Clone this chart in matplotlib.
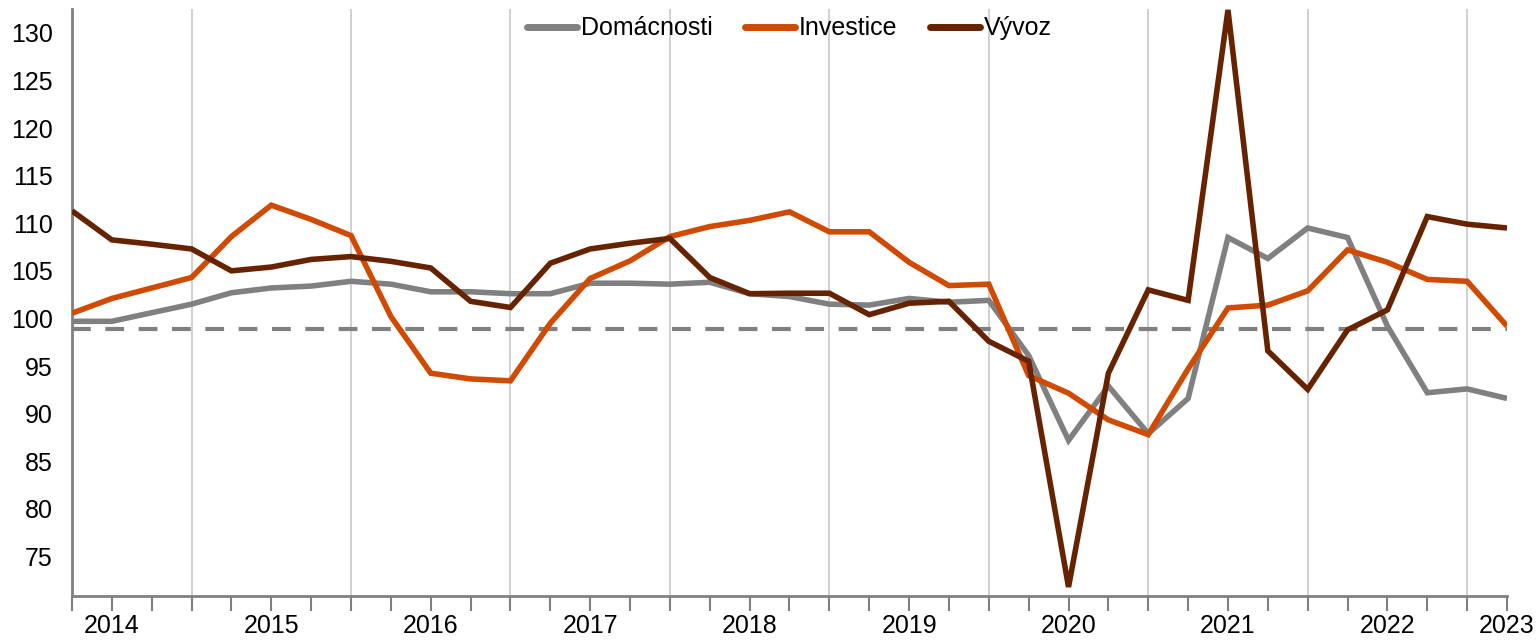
import matplotlib
matplotlib.use("Agg")
import matplotlib.pyplot as plt

# ---- data ----
x_labels = ['', '2014', '', '', '', '2015', '', '', '', '2016', '', '', '',
            '2017', '', '', '', '2018', '', '', '', '2019', '', '', '',
            '2020', '', '', '', '2021', '', '', '', '2022', '', '', '2023']

domacnosti = [99.7, 99.7, 100.6, 101.5, 102.7, 103.2, 103.4, 103.9, 103.6,
              102.8, 102.8, 102.6, 102.6, 103.7, 103.7, 103.6, 103.8, 102.6,
              102.3, 101.5, 101.4, 102.1, 101.7, 101.9, 96.1, 87.2, 92.9,
              87.9, 91.6, 108.5, 106.3, 109.5, 108.5, 99.2, 92.2, 92.6, 91.6]

investice = [100.55, 102.1, 103.2, 104.3, 108.6, 111.9, 110.4, 108.7, 100.2,
             94.25, 93.65, 93.45, 99.5, 104.2, 106.05, 108.6, 109.65, 110.3,
             111.2, 109.1, 109.1, 105.9, 103.45, 103.6, 94.0, 92.15, 89.35,
             87.8, 94.7, 101.1, 101.4, 102.9, 107.2, 105.9, 104.1, 103.9, 99.2]

vyvoz = [111.3, 108.25, 107.8, 107.3, 105.0, 105.4, 106.2, 106.5, 106.0,
         105.3, 101.8, 101.15, 105.8, 107.3, 107.9, 108.4, 104.3, 102.6,
         102.65, 102.65, 100.4, 101.6, 101.8, 97.6, 95.5, 71.8, 94.25,
         103.0, 101.9, 132.4, 96.6, 92.55, 98.8, 100.9, 110.7, 109.9, 109.5]

series_names = ['Domácnosti', 'Investice', 'Vývoz']
reference_level = 98.9
y_ticks = [75, 80, 85, 90, 95, 100, 105, 110, 115, 120, 125, 130]

# ---- styling ----
colors = ['#808080', '#D14A02', '#672300']
plt.rcParams['font.family'] = ['Liberation Sans', 'DejaVu Sans']
FS = 18

fig = plt.figure(figsize=(15.37, 6.40), dpi=100)
ax = fig.add_axes([72 / 1537, 1 - 596 / 640, (1507 - 72) / 1537, (596 - 9) / 640])

x = list(range(len(x_labels)))

# vertical year separators
for gx in range(3, len(x_labels), 4):
    ax.axvline(gx, color='#c8c8c8', lw=1.2, zorder=0)

ax.axhline(reference_level, color='#808080', lw=3, ls=(0, (4.5, 3.5)), zorder=1)

for data, name, c in zip([domacnosti, investice, vyvoz], series_names, colors):
    ax.plot(x, data, color=c, lw=4, label=name, zorder=3,
            solid_joinstyle='miter', solid_capstyle='butt')

ax.set_xlim(0, len(x_labels) - 1)
ax.set_ylim(70.85, 132.5)
ax.set_yticks(y_ticks)
ax.set_xticks(x)
ax.set_xticklabels(x_labels)

for s in ['top', 'right']:
    ax.spines[s].set_visible(False)
for s in ['left', 'bottom']:
    ax.spines[s].set_color('#808080')
    ax.spines[s].set_linewidth(2)

ax.tick_params(axis='y', length=0, pad=14, labelsize=FS, labelcolor='black')
ax.tick_params(axis='x', length=11, width=1.5, color='#808080', direction='out',
               pad=2, labelsize=FS, labelcolor='black')

leg = ax.legend(loc='center', bbox_to_anchor=(0.5, 0.967), ncol=3, frameon=False,
                fontsize=FS, handlelength=2.0, handletextpad=0.15, columnspacing=1.3,
                borderaxespad=0)
for h in leg.get_lines():
    h.set_linewidth(5)
    h.set_solid_capstyle('round')

fig.savefig('out.png', dpi=100, facecolor='white')
